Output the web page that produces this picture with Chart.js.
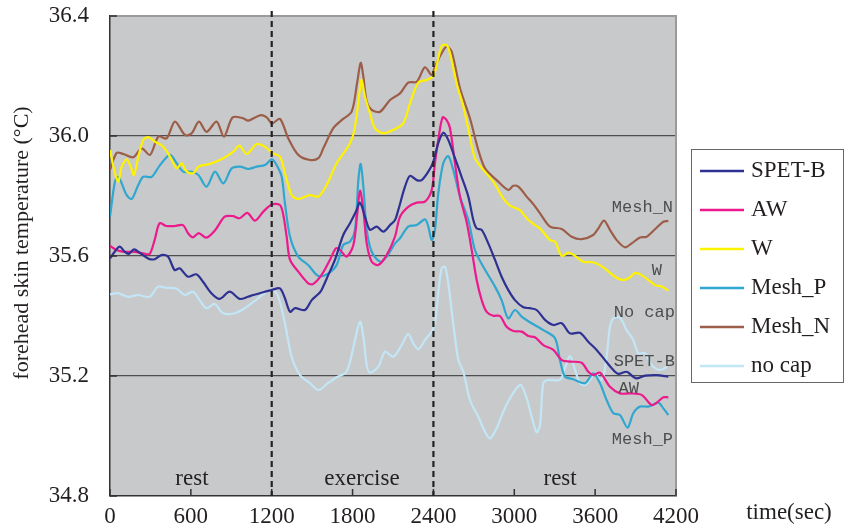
<!DOCTYPE html>
<html lang="en">
<head>
  <meta charset="UTF-8" />
  <title>Forehead skin temperature</title>
  <script src="https://cdn.jsdelivr.net/npm/chart.js"></script>
  <style>
    html, body { margin: 0; padding: 0; background: #fff; }
    #wrap { width: 860px; height: 526px; }
  </style>
</head>
<body>
  <div id="wrap"><canvas id="skinChart" width="860" height="526"></canvas></div>

  <script>
    // [time (s), temperature (°C)]
    const spetB = [[0,35.592],[35,35.614],[72,35.631],[109,35.614],[138,35.607],[178,35.622],[220,35.611],[282,35.592],[331,35.589],[381,35.603],[430,35.598],[480,35.553],[517,35.559],[579,35.531],[641,35.539],[690,35.514],[752,35.476],[814,35.457],[888,35.481],[962,35.457],[1024,35.464],[1063,35.47],[1150,35.481],[1202,35.487],[1261,35.492],[1298,35.459],[1336,35.414],[1373,35.426],[1447,35.42],[1497,35.453],[1546,35.473],[1570,35.487],[1620,35.537],[1669,35.587],[1731,35.67],[1781,35.709],[1825,35.748],[1855,35.778],[1892,35.731],[1929,35.687],[1979,35.698],[2028,35.681],[2078,35.703],[2115,35.72],[2139,35.753],[2189,35.831],[2226,35.867],[2276,35.853],[2313,35.853],[2362,35.881],[2399,35.914],[2436,35.976],[2473,36.011],[2510,35.987],[2560,35.926],[2609,35.864],[2659,35.798],[2696,35.72],[2721,35.692],[2758,35.687],[2807,35.642],[2857,35.587],[2906,35.531],[2955,35.487],[3005,35.453],[3067,35.429],[3116,35.426],[3166,35.42],[3228,35.387],[3290,35.37],[3352,35.376],[3413,35.342],[3487,35.344],[3549,35.314],[3611,35.287],[3673,35.253],[3723,35.226],[3772,35.207],[3834,35.214],[3903,35.192],[3970,35.201],[4057,35.203],[4143,35.198]];

    const aw = [[0,35.634],[47,35.62],[109,35.614],[183,35.614],[245,35.609],[294,35.607],[331,35.653],[368,35.709],[418,35.7],[480,35.7],[542,35.703],[579,35.676],[616,35.662],[658,35.676],[715,35.661],[777,35.684],[851,35.731],[913,35.733],[962,35.726],[1019,35.744],[1076,35.718],[1138,35.748],[1200,35.772],[1261,35.77],[1286,35.737],[1311,35.664],[1336,35.587],[1397,35.548],[1471,35.509],[1509,35.507],[1570,35.537],[1632,35.587],[1677,35.626],[1707,35.62],[1756,35.598],[1806,35.637],[1835,35.742],[1855,35.818],[1880,35.753],[1905,35.642],[1942,35.581],[1991,35.57],[2053,35.603],[2115,35.665],[2152,35.731],[2213,35.764],[2276,35.778],[2337,35.781],[2387,35.82],[2411,35.909],[2436,35.987],[2468,36.062],[2498,36.053],[2523,36.026],[2560,35.909],[2597,35.798],[2646,35.714],[2684,35.62],[2721,35.52],[2758,35.453],[2795,35.414],[2844,35.401],[2894,35.4],[2943,35.364],[2993,35.35],[3055,35.348],[3104,35.333],[3153,35.329],[3215,35.303],[3290,35.287],[3352,35.253],[3413,35.248],[3500,35.244],[3549,35.214],[3586,35.203],[3636,35.211],[3710,35.164],[3784,35.142],[3859,35.142],[3945,35.137],[4019,35.103],[4057,35.111],[4106,35.129],[4143,35.129]];

    const w = [[0,35.953],[37,35.876],[62,35.848],[87,35.898],[124,35.922],[153,35.898],[178,35.87],[210,35.931],[247,35.987],[284,35.996],[334,35.981],[396,35.964],[445,35.931],[495,35.892],[532,35.909],[569,35.881],[619,35.876],[656,35.898],[742,35.907],[841,35.926],[915,35.948],[960,35.968],[1014,35.94],[1088,35.973],[1150,35.964],[1202,35.944],[1261,35.931],[1298,35.876],[1348,35.803],[1397,35.79],[1484,35.803],[1546,35.798],[1608,35.837],[1682,35.909],[1781,35.976],[1818,36.031],[1855,36.159],[1867,36.187],[1892,36.131],[1929,36.076],[1966,36.026],[2028,36.009],[2100,36.02],[2176,36.042],[2226,36.109],[2288,36.178],[2350,36.187],[2399,36.2],[2436,36.259],[2461,36.3],[2498,36.303],[2523,36.276],[2572,36.176],[2622,36.098],[2671,35.998],[2708,35.926],[2770,35.887],[2844,35.848],[2918,35.792],[2968,35.768],[3042,35.753],[3092,35.726],[3153,35.703],[3191,35.692],[3265,35.653],[3302,35.648],[3352,35.6],[3401,35.611],[3451,35.6],[3512,35.581],[3586,35.579],[3661,35.562],[3747,35.531],[3809,35.52],[3859,35.529],[3896,35.544],[3957,35.533],[4044,35.503],[4094,35.498],[4143,35.484]];

    const meshP = [[0,35.731],[37,35.848],[62,35.864],[87,35.842],[124,35.803],[161,35.79],[210,35.837],[247,35.864],[309,35.864],[371,35.903],[445,35.937],[495,35.909],[544,35.881],[606,35.881],[656,35.87],[717,35.831],[779,35.881],[841,35.842],[903,35.892],[965,35.898],[1026,35.89],[1088,35.898],[1150,35.903],[1202,35.922],[1240,35.9],[1274,35.864],[1298,35.776],[1336,35.664],[1397,35.598],[1471,35.57],[1546,35.533],[1620,35.542],[1682,35.57],[1731,35.637],[1781,35.648],[1818,35.687],[1843,35.853],[1860,35.907],[1880,35.831],[1905,35.687],[1942,35.614],[2004,35.581],[2053,35.598],[2115,35.642],[2152,35.659],[2213,35.698],[2276,35.703],[2337,35.722],[2362,35.698],[2387,35.653],[2411,35.687],[2436,35.809],[2473,35.909],[2510,35.933],[2547,35.887],[2597,35.798],[2659,35.72],[2708,35.62],[2770,35.564],[2857,35.498],[2906,35.453],[2955,35.392],[3005,35.42],[3055,35.398],[3116,35.379],[3215,35.353],[3302,35.326],[3339,35.253],[3376,35.198],[3438,35.189],[3525,35.176],[3586,35.209],[3636,35.176],[3685,35.12],[3735,35.076],[3784,35.07],[3841,35.028],[3883,35.076],[3933,35.098],[3995,35.098],[4069,35.111],[4106,35.092],[4143,35.07]];

    const meshN = [[0,35.887],[50,35.944],[99,35.94],[173,35.929],[235,35.959],[297,35.937],[359,35.998],[420,35.992],[482,36.048],[557,36.003],[606,36.009],[660,36.048],[717,36.014],[791,36.048],[846,35.998],[910,36.062],[989,36.059],[1026,36.051],[1113,36.069],[1163,36.062],[1202,36.042],[1261,36.057],[1323,35.992],[1397,35.937],[1484,35.92],[1546,35.926],[1583,35.959],[1657,36.026],[1719,36.053],[1793,36.081],[1835,36.181],[1860,36.244],[1880,36.198],[1905,36.114],[1942,36.087],[2004,36.081],[2078,36.12],[2152,36.142],[2213,36.178],[2276,36.181],[2337,36.229],[2387,36.203],[2411,36.231],[2461,36.276],[2498,36.298],[2535,36.281],[2597,36.159],[2671,36.059],[2733,35.953],[2783,35.892],[2869,35.853],[2955,35.82],[2993,35.834],[3030,35.831],[3092,35.798],[3141,35.773],[3191,35.742],[3265,35.698],[3352,35.69],[3426,35.664],[3500,35.656],[3586,35.67],[3624,35.692],[3666,35.718],[3710,35.687],[3760,35.653],[3821,35.629],[3871,35.642],[3933,35.662],[3982,35.664],[4044,35.689],[4106,35.714],[4143,35.717]];

    const noCap = [[0,35.472],[59,35.476],[134,35.464],[208,35.47],[294,35.464],[356,35.498],[418,35.494],[492,35.492],[554,35.47],[616,35.481],[665,35.453],[715,35.426],[777,35.44],[839,35.409],[925,35.409],[999,35.426],[1061,35.446],[1138,35.473],[1202,35.489],[1249,35.464],[1298,35.376],[1348,35.264],[1410,35.203],[1484,35.176],[1546,35.153],[1608,35.173],[1682,35.196],[1756,35.214],[1818,35.32],[1855,35.381],[1880,35.331],[1905,35.237],[1929,35.211],[1991,35.231],[2041,35.281],[2102,35.264],[2164,35.303],[2213,35.34],[2251,35.309],[2288,35.289],[2337,35.32],[2387,35.348],[2411,35.376],[2436,35.476],[2461,35.559],[2486,35.564],[2510,35.509],[2547,35.376],[2585,35.253],[2622,35.214],[2671,35.12],[2733,35.064],[2783,35.014],[2820,34.992],[2869,35.026],[2918,35.081],[2968,35.126],[3017,35.159],[3050,35.17],[3092,35.126],[3129,35.064],[3166,35.012],[3191,35.037],[3215,35.176],[3252,35.187],[3339,35.187],[3376,35.226],[3413,35.267],[3451,35.22],[3487,35.176],[3525,35.17],[3562,35.187],[3599,35.209],[3636,35.187],[3661,35.198],[3685,35.264],[3710,35.364],[3735,35.392],[3784,35.394],[3834,35.353],[3883,35.32],[3920,35.276],[3970,35.276],[4019,35.237],[4081,35.22],[4136,35.231]];

    const seriesNames = ['SPET-B', 'AW', 'W', 'Mesh_P', 'Mesh_N', 'no cap'];
    const seriesData = [spetB, aw, w, meshP, meshN, noCap];
    const seriesColors = ['#2e3192', '#ec1a8c', '#fff200', '#2fa7cf', '#9c5e48', '#c3e6f6'];

    const xTicks = [0, 600, 1200, 1800, 2400, 3000, 3600, 4200];
    const yTicks = [34.8, 35.2, 35.6, 36.0, 36.4];
    const phaseMarks = [1200, 2400];
    const phaseNames = [['rest', 608], ['exercise', 1870], ['rest', 3340]];
    // text, right edge (s), centre (°C)
    const endNames = [['Mesh_N', 4178, 35.762], ['W', 4096, 35.553], ['No cap', 4192, 35.413],
                      ['SPET-B', 4192, 35.247], ['AW', 3925, 35.157], ['Mesh_P', 4178, 34.99]];

    const serif = '"Liberation Serif", "Times New Roman", serif';

    const chartDecor = {
      id: 'chartDecor',
      beforeDraw(chart) {
        const { ctx, chartArea: a } = chart;
        ctx.save();
        ctx.fillStyle = '#ffffff';
        ctx.fillRect(0, 0, chart.width, chart.height);
        ctx.fillStyle = '#c8c9cb';
        ctx.fillRect(a.left, a.top, a.right - a.left, a.bottom - a.top);
        ctx.restore();
      },
      afterDatasetsDraw(chart) {
        const { ctx, chartArea: a, scales: { x, y } } = chart;
        ctx.save();

        // top and right frame
        ctx.strokeStyle = '#9b9b9b';
        ctx.lineWidth = 2;
        ctx.beginPath();
        ctx.moveTo(a.left, a.top);
        ctx.lineTo(a.right, a.top);
        ctx.lineTo(a.right, a.bottom);
        ctx.stroke();

        // inward tick marks
        ctx.strokeStyle = '#333';
        ctx.lineWidth = 1.5;
        ctx.beginPath();
        xTicks.forEach(t => {
          const px = x.getPixelForValue(t);
          ctx.moveTo(px, a.bottom);
          ctx.lineTo(px, a.bottom - 7);
        });
        yTicks.forEach(v => {
          const py = y.getPixelForValue(v);
          ctx.moveTo(a.left, py);
          ctx.lineTo(a.left + 7, py);
        });
        ctx.stroke();

        // phase boundaries
        ctx.strokeStyle = '#222';
        ctx.lineWidth = 2.2;
        ctx.setLineDash([6, 4]);
        phaseMarks.forEach(t => {
          const px = x.getPixelForValue(t);
          ctx.beginPath();
          ctx.moveTo(px, a.top - 5);
          ctx.lineTo(px, a.bottom);
          ctx.stroke();
        });
        ctx.setLineDash([]);

        ctx.fillStyle = '#231f20';
        ctx.font = '23px ' + serif;
        ctx.textAlign = 'center';
        ctx.textBaseline = 'alphabetic';
        phaseNames.forEach(([txt, t]) => {
          ctx.fillText(txt, x.getPixelForValue(t), a.bottom - 11);
        });

        // series names at the right end of the curves
        ctx.fillStyle = '#4d4d4d';
        ctx.font = '17px "Liberation Mono", "Courier New", monospace';
        ctx.textAlign = 'right';
        ctx.textBaseline = 'middle';
        endNames.forEach(([txt, t, v]) => {
          ctx.fillText(txt, x.getPixelForValue(t), y.getPixelForValue(v));
        });
        ctx.restore();
      },
      afterDraw(chart) {
        const { ctx } = chart;
        ctx.save();

        // y axis title
        ctx.fillStyle = '#231f20';
        ctx.font = '22px ' + serif;
        ctx.textAlign = 'center';
        ctx.textBaseline = 'middle';
        ctx.translate(22, 243);
        ctx.rotate(-Math.PI / 2);
        ctx.fillText('forehead skin temperature (°C)', 0, 0);
        ctx.setTransform(1, 0, 0, 1, 0, 0);

        ctx.font = '23px ' + serif;
        ctx.fillText('time(sec)', 789, 513);

        // legend box
        const bx = 691, by = 149, bw = 152, bh = 233;
        ctx.fillStyle = '#ffffff';
        ctx.fillRect(bx, by, bw, bh);
        ctx.strokeStyle = '#666';
        ctx.lineWidth = 1;
        ctx.strokeRect(bx + 0.5, by + 0.5, bw, bh);

        ctx.font = '23px ' + serif;
        ctx.textAlign = 'left';
        chart.data.datasets.forEach((ds, i) => {
          const ly = 171 + i * 39;
          ctx.strokeStyle = ds.borderColor;
          ctx.lineWidth = 2.5;
          ctx.beginPath();
          ctx.moveTo(700, ly);
          ctx.lineTo(744, ly);
          ctx.stroke();
          ctx.fillStyle = '#231f20';
          ctx.fillText(ds.label, 751, ly);
        });
        ctx.restore();
      }
    };

    const ctx = document.getElementById('skinChart').getContext('2d');
    new Chart(ctx, {
      type: 'line',
      data: {
        datasets: seriesNames.map((name, i) => ({
          label: name,
          data: seriesData[i].map(([t, v]) => ({ x: t, y: v })),
          borderColor: seriesColors[i],
          backgroundColor: seriesColors[i],
          borderWidth: 2.2,
          pointRadius: 0,
          tension: 0.3,
          fill: false
        }))
      },
      options: {
        responsive: false,
        animation: false,
        layout: { padding: { left: 0, top: 16, right: 184, bottom: 0 } },
        plugins: {
          legend: { display: false },
          tooltip: { enabled: false }
        },
        scales: {
          x: {
            type: 'linear',
            min: 0,
            max: 4200,
            afterBuildTicks: s => { s.ticks = xTicks.map(v => ({ value: v })); },
            afterFit: s => {
              s.height = 30;
              s.paddingLeft = 0;
              s.paddingRight = 0;
            },
            grid: { display: false },
            border: { display: true, color: '#333', width: 1.5 },
            ticks: {
              maxRotation: 0,
              autoSkip: false,
              padding: -1,
              color: '#231f20',
              font: { family: serif, size: 23 },
              callback: v => String(v)
            }
          },
          y: {
            min: 34.8,
            max: 36.4,
            afterBuildTicks: s => { s.ticks = yTicks.map(v => ({ value: v })); },
            afterFit: s => {
              s.width = 110;
              s.paddingTop = 0;
              s.paddingBottom = 0;
            },
            grid: {
              drawTicks: false,
              lineWidth: 1.2,
              color: c => (c.index === 0 || c.index === yTicks.length - 1) ? 'rgba(0,0,0,0)' : '#4f4f4f'
            },
            border: { display: true, color: '#333', width: 1.5 },
            ticks: {
              padding: 21,
              color: '#231f20',
              font: { family: serif, size: 23 },
              callback: v => v.toFixed(1)
            }
          }
        }
      },
      plugins: [chartDecor]
    });
  </script>
</body>
</html>
